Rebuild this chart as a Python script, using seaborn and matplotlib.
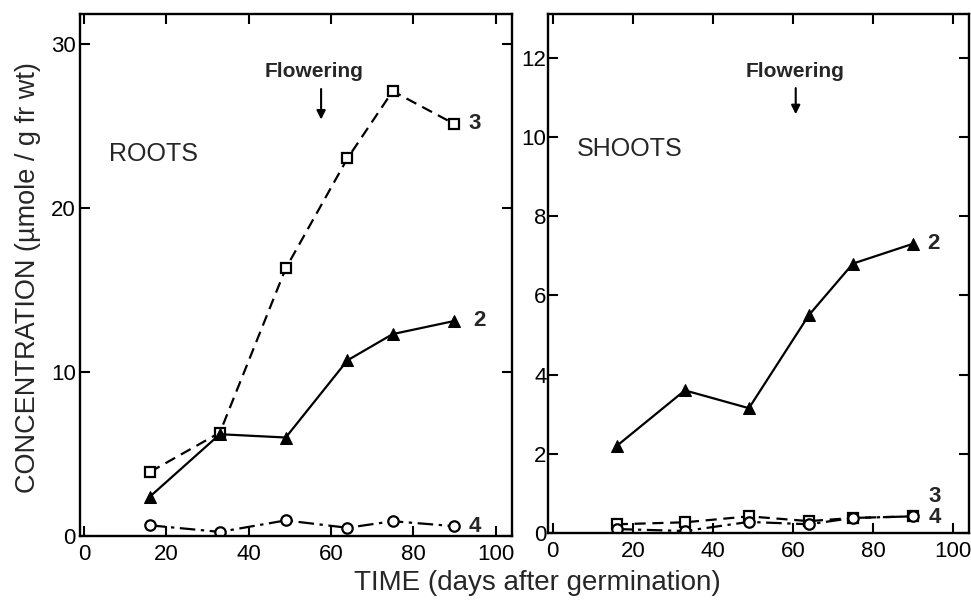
import matplotlib
matplotlib.use("Agg")
import matplotlib.pyplot as plt
import seaborn as sns

# values
days = [16, 33, 49, 64, 75, 90]

roots_2 = [2.4, 6.2, 6.0, 10.7, 12.3, 13.1]
roots_3 = [3.9, 6.3, 16.3, 23.0, 27.1, 25.1]
roots_4 = [0.65, 0.25, 0.95, 0.5, 0.9, 0.6]

shoots_2 = [2.2, 3.6, 3.15, 5.5, 6.8, 7.3]
shoots_3 = [0.22, 0.27, 0.42, 0.3, 0.38, 0.42]
shoots_4 = [0.1, 0.05, 0.28, 0.22, 0.38, 0.42]

xticks = [0, 20, 40, 60, 80, 100]
roots_yticks = [0, 10, 20, 30]
shoots_yticks = [0, 2, 4, 6, 8, 10, 12]

sns.set_style("ticks")
plt.rcParams['font.family'] = ['Liberation Sans', 'DejaVu Sans']

fig = plt.figure(figsize=(9.71, 6.03), dpi=100)
ax1 = fig.add_axes([80 / 971, 1 - 536 / 603, 432 / 971, 522 / 603])
ax2 = fig.add_axes([548 / 971, 1 - 533 / 603, 421 / 971, 519 / 603])

lw = 1.6
dash = (0, (5, 3))
dashdot = (0, (7, 2.5, 1.5, 2.5))


def draw(ax, s2, s3, s4):
    sns.lineplot(x=days, y=s3, ax=ax, color="black", lw=lw, linestyle=dash,
                 marker="s", ms=7, mfc="white", mec="black", mew=1.6)
    sns.lineplot(x=days, y=s2, ax=ax, color="black", lw=lw, linestyle="-",
                 marker="^", ms=8, mfc="black", mec="black")
    sns.lineplot(x=days, y=s4, ax=ax, color="black", lw=lw, linestyle=dashdot,
                 marker="o", ms=7.5, mfc="white", mec="black", mew=1.6)


draw(ax1, roots_2, roots_3, roots_4)
draw(ax2, shoots_2, shoots_3, shoots_4)

ax1.set_xlim(-1, 104)
ax1.set_ylim(0, 31.8)
ax2.set_xlim(-1.2, 104)
ax2.set_ylim(0, 13.1)
ax1.set_yticks(roots_yticks)
ax2.set_yticks(shoots_yticks)

for ax in (ax1, ax2):
    ax.set_xticks(xticks)
    for sp in ax.spines.values():
        sp.set_visible(True)
        sp.set_linewidth(1.7)
        sp.set_color("black")
    ax.tick_params(axis="both", which="both", direction="in", length=7,
                   width=1.5, labelsize=16, top=True, right=True,
                   colors="black")
    ax.tick_params(axis="x", pad=6)
    ax.set_xlabel("")
    ax.set_ylabel("")

ax1.tick_params(axis="y", pad=3)
ax2.tick_params(axis="y", pad=1)

# panel names
ax1.text(6, 23.3, "ROOTS", fontsize=18, va="center", ha="left")
ax2.text(6, 9.7, "SHOOTS", fontsize=18, va="center", ha="left")

# flowering arrows
ax1.annotate("", xy=(57.6, 25.2), xytext=(57.6, 27.4),
             arrowprops=dict(arrowstyle="-|>", color="black", lw=1.5,
                             mutation_scale=13))
ax1.text(56, 28.3, "Flowering", fontsize=15, fontweight="bold",
         ha="center", va="center")
ax2.annotate("", xy=(60.7, 10.5), xytext=(60.7, 11.3),
             arrowprops=dict(arrowstyle="-|>", color="black", lw=1.5,
                             mutation_scale=13))
ax2.text(60.5, 11.65, "Flowering", fontsize=15, fontweight="bold",
         ha="center", va="center")

# curve numbers
ax1.text(93.5, roots_3[-1], "3", fontsize=16, fontweight="bold", va="center")
ax1.text(94.5, roots_2[-1], "2", fontsize=16, fontweight="bold", va="center")
ax1.text(93.5, roots_4[-1], "4", fontsize=16, fontweight="bold", va="center")
ax2.text(93.8, 0.92, "3", fontsize=16, fontweight="bold", va="center")
ax2.text(94, 0.38, "4", fontsize=16, fontweight="bold", va="center")
ax2.text(93.5, shoots_2[-1], "2", fontsize=16, fontweight="bold", va="center")

fig.text(0.553, 0.033, "TIME (days after germination)", fontsize=20,
         ha="center", va="center")
fig.text(0.029, 0.54, "CONCENTRATION (\u00b5mole / g fr wt)", fontsize=19.5,
         ha="center", va="center", rotation=90)

fig.savefig("out.png", dpi=100)
